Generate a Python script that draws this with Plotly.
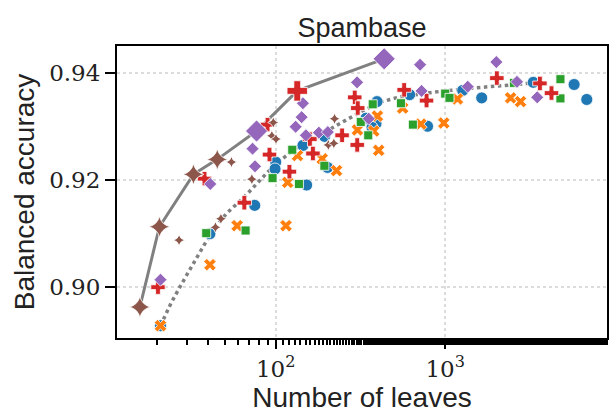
import plotly.graph_objects as go

# ---- data (number of leaves, balanced accuracy) ----
blue_x = [20.9, 40.9, 75.2, 100.0, 99.1, 144.7, 152.2, 202.2, 194.2, 341.2, 390.6, 370.0,
          395.9, 616.6, 786.8, 1269, 1642, 3307, 5763, 6844]
blue_y = [0.8928, 0.9100, 0.9153, 0.9234, 0.9221, 0.9265, 0.9191, 0.9224, 0.9282, 0.9316,
          0.9306, 0.9299, 0.9347, 0.9360, 0.9301, 0.9368, 0.9354, 0.9383, 0.9379, 0.9351]

orange_x = [20.9, 40.9, 59.2, 115.0, 117.7, 134.4, 188.0, 228.5, 405.1, 303.5, 378.7, 398.1,
            561.0, 718.6, 981.3, 1181, 2431, 2783]
orange_y = [0.8928, 0.9042, 0.9115, 0.9115, 0.9196, 0.9246, 0.9240, 0.9218, 0.9256, 0.9294,
            0.9292, 0.9320, 0.9335, 0.9305, 0.9307, 0.9352, 0.9354, 0.9347]

green_x = [38.9, 66.4, 95.8, 137.1, 125.2, 193.7, 317.6, 351.5, 373.6, 548.1, 644.8, 1000,
           1060, 2546, 4786, 4786]
green_y = [0.9101, 0.9106, 0.9204, 0.9193, 0.9257, 0.9227, 0.9309, 0.9284, 0.9342, 0.9344,
           0.9304, 0.9362, 0.9354, 0.9382, 0.9389, 0.9353]

red_x = [20.2, 38.0, 65.3, 91.9, 89.5, 120.5, 159.1, 165.8, 246.4, 302.7, 292.6, 304.8,
         572.5, 776.2, 2017, 3621, 4238]
red_y = [0.9000, 0.9203, 0.9158, 0.9248, 0.9304, 0.9216, 0.9277, 0.9250, 0.9284, 0.9266,
         0.9355, 0.9335, 0.9369, 0.9349, 0.9391, 0.9381, 0.9363]

purple_x = [20.9, 41.1, 75.5, 73.0, 131.1, 142.2, 144.7, 150.7, 179.8, 203.0, 302.0, 353.9,
            710.9, 725.4, 1358, 2003, 2652, 3491]
purple_y = [0.9014, 0.9193, 0.9226, 0.9259, 0.9300, 0.9318, 0.9344, 0.9284, 0.9289, 0.9290,
            0.9383, 0.9315, 0.9416, 0.9367, 0.9375, 0.9421, 0.9384, 0.9355]

brown_x = [26.9, 54.8, 44.1, 47.5, 72.3, 94.9, 100.4, 96.8, 222.4, 204.4, 220.3]
brown_y = [0.9088, 0.9234, 0.9112, 0.9128, 0.9202, 0.9283, 0.9277, 0.9308, 0.9315, 0.9266, 0.9269]

# Pareto front (solid line, large markers)
front_x = [15.8, 20.6, 32.7, 45.2, 77.1, 134.0, 436.5]
front_y = [0.8963, 0.9113, 0.9211, 0.9239, 0.9292, 0.9367, 0.9427]
front_series = ["brown", "brown", "brown", "brown", "purple", "red", "purple"]

# Mean trend (dotted line)
trend_x = [20.9, 24.1, 27.6, 30.9, 36.4, 43.9, 51.7, 65.4, 78.0, 90.1, 108.5, 137.1, 175.7,
           235.7, 317.6, 423.8, 543.7, 873.4, 1403, 2203, 3307]
trend_y = [0.8928, 0.8970, 0.9004, 0.9032, 0.9070, 0.9113, 0.9139, 0.9169, 0.9194, 0.9216,
           0.9239, 0.9264, 0.9282, 0.9304, 0.9328, 0.9347, 0.9356, 0.9365, 0.9372, 0.9377, 0.9382]

x_tickvals = [100, 1000]
x_ticktext = ["10<sup>2</sup>", "10<sup>3</sup>"]
y_tickvals = [0.90, 0.92, 0.94]
y_ticktext = ["0.90", "0.92", "0.94"]

# ---- styles ----
COL = {"blue": "#1f77b4", "orange": "#ff7f0e", "green": "#2ca02c",
       "red": "#d62728", "purple": "#9467bd", "brown": "#8c564b"}
SYM = {"blue": "circle", "orange": "x", "green": "square",
       "red": "cross", "purple": "diamond", "brown": "star-diamond"}
SIZE = {"blue": 12, "orange": 11, "green": 9, "red": 12, "purple": 10, "brown": 8}
BIG = {"red": 17, "purple": 17, "brown": 15}

fig = go.Figure()

fig.add_trace(go.Scatter(x=trend_x, y=trend_y, mode="lines",
                         line=dict(color="#808080", width=3.5, dash="dot"),
                         hoverinfo="skip", showlegend=False))
fig.add_trace(go.Scatter(x=front_x, y=front_y, mode="lines",
                         line=dict(color="#808080", width=3),
                         hoverinfo="skip", showlegend=False))

series = [("blue", blue_x, blue_y), ("orange", orange_x, orange_y),
          ("green", green_x, green_y), ("red", red_x, red_y),
          ("purple", purple_x, purple_y), ("brown", brown_x, brown_y)]
for name, xs, ys in series:
    fig.add_trace(go.Scatter(
        x=xs, y=ys, mode="markers", showlegend=False,
        marker=dict(color=COL[name], symbol=SYM[name], size=SIZE[name],
                    line=dict(color="white", width=0.8))))

for name in ["brown", "red", "purple"]:
    fx = [x for x, s in zip(front_x, front_series) if s == name]
    fy = [y for y, s in zip(front_y, front_series) if s == name]
    fig.add_trace(go.Scatter(
        x=fx, y=fy, mode="markers", showlegend=False,
        marker=dict(color=COL[name], symbol=SYM[name], size=BIG[name],
                    line=dict(color="white", width=0.8))))

tickfont = dict(family="DejaVu Serif", size=23, color="#222")
labfont = dict(family="Liberation Sans", size=28, color="#222")

fig.update_layout(
    width=611, height=418,
    margin=dict(l=117, r=2, t=46, b=80),
    paper_bgcolor="white", plot_bgcolor="white",
    title=dict(text="Spambase", x=0.5, xref="paper", y=0.935, yref="container",
               xanchor="center", yanchor="middle",
               font=dict(family="Liberation Sans", size=27, color="#222")),
    xaxis=dict(type="log", range=[1.0635, 3.9547],
               tickvals=x_tickvals, ticktext=x_ticktext,
               ticks="outside", ticklen=9, tickwidth=2, tickcolor="black",
               showline=True, linecolor="black", linewidth=2, mirror=True,
               showgrid=True, gridcolor="#dcdcdc", griddash="dot", gridwidth=1.5,
               zeroline=False, tickfont=tickfont,
               minor=dict(ticks="outside", ticklen=5, tickwidth=1.5, tickcolor="black",
                          showgrid=False),
               title=dict(text="Number of leaves", font=labfont, standoff=6)),
    yaxis=dict(range=[0.8905, 0.9451], tickvals=y_tickvals, ticktext=y_ticktext,
               ticks="outside", ticklen=10, tickwidth=2, tickcolor="black",
               showline=True, linecolor="black", linewidth=2, mirror=True,
               showgrid=True, gridcolor="#dcdcdc", griddash="dot", gridwidth=1.5,
               zeroline=False, tickfont=tickfont,
               title=dict(text="Balanced accuracy", font=labfont, standoff=6)),
)

fig.write_html("out.html")
